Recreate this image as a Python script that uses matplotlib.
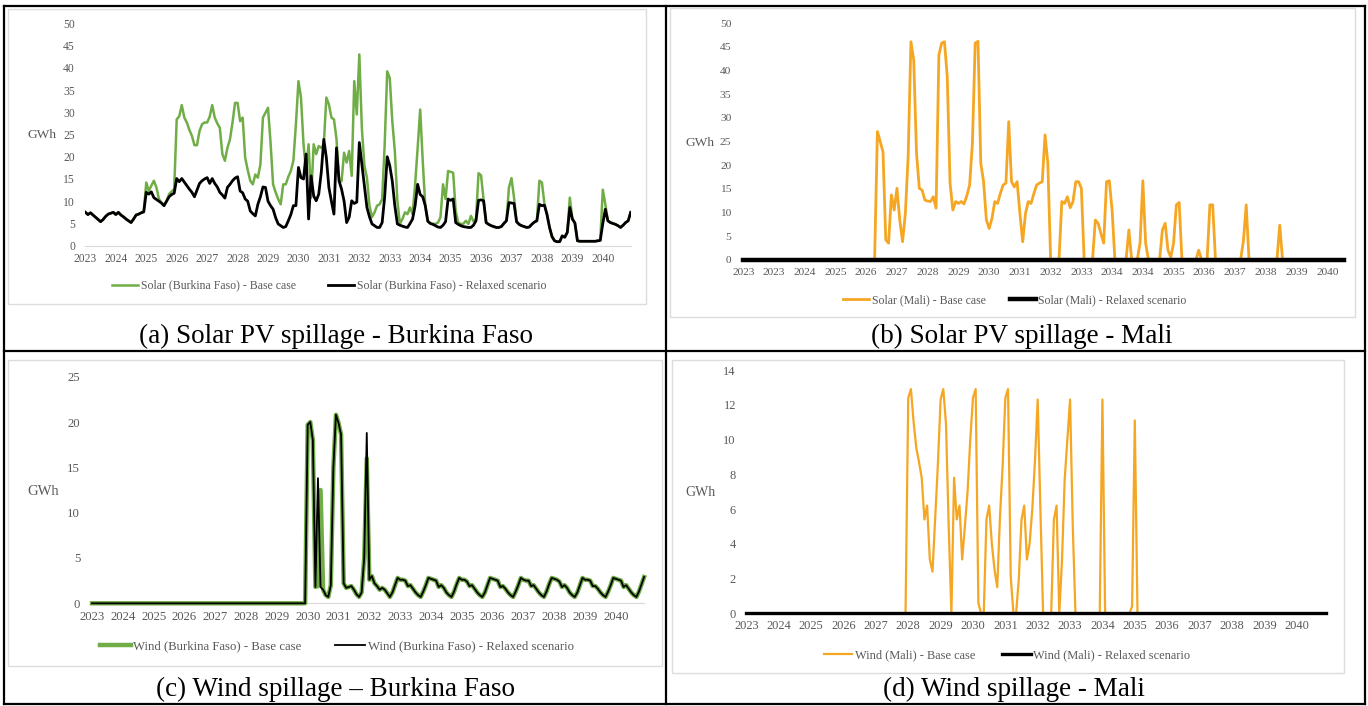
import numpy as np
import matplotlib
matplotlib.use('Agg')
import matplotlib.pyplot as plt
from matplotlib.lines import Line2D
from matplotlib.patches import Rectangle

plt.rcParams['font.family'] = ['Liberation Serif', 'DejaVu Serif']

# monthly values, Jan 2023 .. Dec 2040 (GWh)
solar_bf_base = [
    7.5, 7.0, 7.4, 6.9, 6.4, 5.9, 5.4, 5.9, 6.6, 7.1, 7.3, 7.5,
    7.0, 7.5, 6.9, 6.5, 6.0, 5.6, 5.2, 6.0, 6.9, 7.1, 7.4, 7.6,
    14.2, 12.3, 13.5, 14.6, 13.1, 10.5, 9.6, 9.0, 10.0, 11.6, 12.2, 12.7,
    28.4, 29.1, 31.6, 28.8, 27.7, 26.0, 24.7, 22.6, 22.6, 25.8, 27.3, 27.7,
    27.7, 29.0, 31.6, 28.8, 27.5, 26.5, 20.6, 19.1, 22.0, 23.9, 27.7, 32.1,
    32.1, 28.0, 28.8, 19.8, 17.0, 14.6, 13.8, 16.0, 15.3, 18.3, 28.8, 29.9,
    31.0, 23.2, 13.8, 12.0, 10.5, 9.3, 13.8, 13.8, 15.5, 16.8, 19.1, 27.3,
    37.0, 33.3, 22.8, 16.8, 22.8, 10.8, 22.8, 20.6, 22.4, 22.0, 22.8, 33.3,
    31.8, 28.8, 28.4, 24.0, 15.0, 14.5, 20.9, 18.7, 21.3, 15.7, 37.0, 29.5,
    43.0, 26.5, 18.0, 15.3, 9.0, 6.4, 7.5, 9.0, 9.3, 10.5, 22.8, 39.2,
    37.7, 28.0, 21.3, 10.1, 4.9, 6.0, 7.5, 7.1, 8.6, 7.1, 13.8, 22.0,
    30.6, 19.1, 9.0, 5.5, 5.0, 4.9, 4.9, 5.2, 6.4, 13.8, 10.5, 16.8,
    16.6, 16.4, 7.8, 5.2, 4.9, 4.9, 5.6, 4.9, 6.7, 5.5, 6.0, 16.3,
    15.8, 10.3, 5.2, 4.8, 4.5, 4.3, 4.1, 4.1, 4.3, 5.0, 5.6, 13.1,
    15.2, 10.8, 5.4, 4.8, 4.5, 4.3, 4.1, 4.2, 4.8, 5.3, 5.6, 14.6,
    14.2, 9.3, 7.0, 4.1, 2.0, 1.1, 0.9, 0.9, 2.2, 1.9, 3.0, 10.8,
    6.0, 5.1, 1.1, 1.0, 1.0, 1.0, 1.0, 1.0, 1.0, 1.0, 1.1, 1.2,
    12.6, 9.3, 5.6, 5.2, 5.0, 4.8, 4.5, 4.1, 4.6, 5.2, 5.6, 7.5,
]
solar_bf_relaxed = [
    7.5, 7.0, 7.4, 6.9, 6.4, 5.9, 5.4, 5.9, 6.6, 7.1, 7.3, 7.5,
    7.0, 7.5, 6.9, 6.5, 6.0, 5.6, 5.2, 6.0, 6.9, 7.1, 7.4, 7.6,
    12.0, 11.6, 12.1, 10.8, 10.4, 10.0, 9.6, 9.0, 10.0, 11.0, 11.5, 11.8,
    15.1, 14.4, 15.1, 14.3, 13.5, 12.7, 12.0, 11.0, 12.5, 14.0, 14.6, 15.0,
    15.3, 14.0, 15.1, 14.0, 13.2, 12.0, 11.4, 10.7, 13.1, 13.8, 14.6, 15.2,
    15.5, 12.3, 11.9, 10.5, 10.0, 7.8, 7.2, 6.7, 9.3, 11.0, 13.2, 13.1,
    10.0, 9.0, 8.2, 6.3, 4.9, 4.5, 4.1, 4.3, 5.6, 7.0, 9.0, 9.0,
    17.6, 15.3, 15.0, 20.6, 6.0, 15.7, 11.2, 10.1, 11.6, 16.5, 23.9, 19.8,
    13.1, 10.0, 7.1, 22.0, 14.6, 12.7, 10.0, 5.2, 6.4, 10.1, 9.5, 9.8,
    23.2, 18.3, 13.5, 8.6, 6.5, 4.9, 4.5, 4.1, 4.1, 5.2, 11.0, 20.0,
    18.0, 14.5, 9.0, 4.9, 4.6, 4.4, 4.2, 4.1, 5.0, 6.0, 9.0, 13.8,
    11.5, 11.0, 9.0, 5.5, 5.0, 4.8, 4.5, 4.2, 4.1, 4.6, 5.4, 10.5,
    10.2, 10.5, 5.2, 4.8, 4.5, 4.3, 4.2, 4.1, 4.1, 4.6, 5.6, 10.2,
    10.3, 10.1, 5.2, 4.8, 4.5, 4.3, 4.1, 4.1, 4.3, 5.0, 5.6, 9.7,
    9.6, 9.5, 5.4, 4.8, 4.5, 4.3, 4.1, 4.2, 4.8, 5.3, 5.6, 9.3,
    9.0, 9.1, 7.0, 4.1, 2.0, 1.1, 0.9, 0.9, 2.2, 1.9, 3.0, 8.6,
    6.0, 5.1, 1.1, 1.0, 1.0, 1.0, 1.0, 1.0, 1.0, 1.0, 1.1, 1.2,
    5.0, 8.2, 5.6, 5.2, 5.0, 4.8, 4.5, 4.1, 4.6, 5.2, 5.6, 7.5,
]
solar_mali_base = [
    0, 0, 0, 0, 0, 0, 0, 0, 0, 0, 0, 0,
    0, 0, 0, 0, 0, 0, 0, 0, 0, 0, 0, 0,
    0, 0, 0, 0, 0, 0, 0, 0, 0, 0, 0, 0,
    0, 0, 0, 0, 0, 0, 0, 0, 0, 0, 0, 0,
    27.1, 25.0, 22.8, 4.2, 3.5, 13.7, 10.5, 15.1, 8.4, 3.8, 9.8, 21.8,
    46.1, 42.2, 22.5, 15.1, 14.7, 12.6, 12.4, 12.3, 13.3, 10.9, 43.3, 45.8,
    46.1, 38.7, 16.2, 10.5, 12.3, 11.9, 12.3, 11.8, 13.5, 15.8, 24.6, 45.8,
    46.2, 20.4, 16.5, 8.4, 6.6, 8.7, 12.3, 11.9, 14.0, 15.8, 16.2, 29.2,
    16.5, 15.4, 16.5, 9.8, 3.8, 9.8, 12.3, 11.9, 14.0, 15.8, 16.2, 16.5,
    26.4, 20.4, 0, 0, 0, 0, 12.3, 11.9, 13.3, 11.0, 12.3, 16.5,
    16.5, 15.1, 0, 0, 0, 0, 8.4, 7.7, 5.5, 3.5, 16.5, 16.7,
    10.5, 0, 0, 0, 0, 0, 6.3, 0, 0, 0, 3.5, 16.7,
    3.5, 0, 0, 0, 0, 0, 6.3, 7.7, 2.0, 0.5, 3.5, 11.6,
    12.1, 0, 0, 0, 0, 0, 0, 2.0, 0, 0, 0, 11.6,
    11.6, 0, 0, 0, 0, 0, 0, 0, 0, 0, 0, 4.0,
    11.6, 0, 0, 0, 0, 0, 0, 0, 0, 0, 0, 0,
    7.3, 0, 0, 0, 0, 0, 0, 0, 0, 0, 0, 0,
    0, 0, 0, 0, 0, 0, 0, 0, 0, 0, 0, 0,
]
solar_mali_relaxed = [0.0] * 216

wind_bf_relaxed = [0.0] * 84 + [
    19.7, 20.0, 18.0, 1.8, 13.8, 1.8, 1.5, 0.9, 0.7, 2.0, 15.0, 20.8,
    19.9, 18.6, 2.2, 1.7, 1.8, 1.9, 1.5, 1.0, 0.7, 1.2, 5.0, 18.8,
    2.6, 3.0, 2.2, 1.9, 1.5, 1.7, 1.5, 1.1, 0.7, 1.2, 2.0, 2.8,
    2.6, 2.6, 2.5, 1.9, 2.0, 1.6, 1.2, 0.9, 0.7, 1.3, 2.0, 2.8,
    2.7, 2.6, 2.5, 1.8, 2.0, 1.7, 1.2, 0.9, 0.7, 1.3, 2.1, 2.8,
    2.6, 2.6, 2.4, 1.9, 2.0, 1.6, 1.2, 0.9, 0.7, 1.2, 2.0, 2.8,
    2.7, 2.6, 2.5, 1.8, 1.9, 1.6, 1.2, 0.9, 0.7, 1.3, 2.0, 2.8,
    2.6, 2.5, 2.5, 1.9, 2.0, 1.6, 1.2, 0.9, 0.7, 1.3, 2.1, 2.8,
    2.7, 2.6, 2.4, 1.8, 2.0, 1.7, 1.2, 0.9, 0.7, 1.2, 2.0, 2.8,
    2.6, 2.6, 2.5, 1.9, 1.9, 1.6, 1.2, 0.9, 0.7, 1.3, 2.0, 2.8,
    2.7, 2.6, 2.5, 1.8, 2.0, 1.6, 1.2, 0.9, 0.7, 1.3, 2.1, 2.9,
]
wind_bf_base = [0.0] * 84 + [
    19.7, 20.0, 18.0, 1.8, 1.9, 12.5, 1.5, 0.9, 0.7, 2.0, 15.0, 20.8,
    19.9, 18.6, 2.2, 1.7, 1.8, 1.9, 1.5, 1.0, 0.7, 1.2, 5.0, 16.0,
    2.6, 3.0, 2.2, 1.9, 1.5, 1.7, 1.5, 1.1, 0.7, 1.2, 2.0, 2.8,
    2.6, 2.6, 2.5, 1.9, 2.0, 1.6, 1.2, 0.9, 0.7, 1.3, 2.0, 2.8,
    2.7, 2.6, 2.5, 1.8, 2.0, 1.7, 1.2, 0.9, 0.7, 1.3, 2.1, 2.8,
    2.6, 2.6, 2.4, 1.9, 2.0, 1.6, 1.2, 0.9, 0.7, 1.2, 2.0, 2.8,
    2.7, 2.6, 2.5, 1.8, 1.9, 1.6, 1.2, 0.9, 0.7, 1.3, 2.0, 2.8,
    2.6, 2.5, 2.5, 1.9, 2.0, 1.6, 1.2, 0.9, 0.7, 1.3, 2.1, 2.8,
    2.7, 2.6, 2.4, 1.8, 2.0, 1.7, 1.2, 0.9, 0.7, 1.2, 2.0, 2.8,
    2.6, 2.6, 2.5, 1.9, 1.9, 1.6, 1.2, 0.9, 0.7, 1.3, 2.0, 2.8,
    2.7, 2.6, 2.5, 1.8, 2.0, 1.6, 1.2, 0.9, 0.7, 1.3, 2.1, 2.9,
]
wind_mali_base = [0.0] * 60 + [
    12.4, 12.9, 11.0, 9.5, 8.7, 7.8, 5.4, 6.2, 3.1, 2.4, 5.5, 8.6,
    12.3, 12.9, 10.9, 5.0, 0.0, 7.8, 5.4, 6.2, 3.1, 5.0, 7.0, 10.0,
    12.4, 12.9, 0.6, 0.0, 0.0, 5.4, 6.2, 4.0, 2.5, 1.5, 5.5, 8.5,
    12.4, 12.9, 2.1, 0.0, 0.0, 2.0, 5.4, 6.2, 3.1, 4.0, 6.0, 8.8,
    12.3, 6.0, 0.0, 0.0, 0.0, 0.0, 5.4, 6.2, 0.0, 3.0, 7.7, 10.0,
    12.3, 5.0, 0.0, 0.0, 0.0, 0.0, 0.0, 0.0, 0.0, 0.0, 0.0, 0.0,
    12.3, 0.0, 0.0, 0.0, 0.0, 0.0, 0.0, 0.0, 0.0, 0.0, 0.0, 0.4,
    11.1, 0.0, 0.0, 0.0, 0.0, 0.0, 0.0, 0.0, 0.0, 0.0, 0.0, 0.0,
] + [0.0] * 60
wind_mali_relaxed = [0.0] * 216

year_labels = [str(y) for y in range(2023, 2041)]
mali_solar_labels = ['2023', '2023', '2024', '2025', '2026', '2027', '2028',
                     '2029', '2030', '2031', '2032', '2033', '2034', '2034',
                     '2035', '2036', '2037', '2038', '2039', '2040']

GREEN = '#70ad47'
ORANGE = '#f5a623'
GREY = '#595959'

W, H = 1368, 706
fig = plt.figure(figsize=(W / 100, H / 100), dpi=100)


def px_axes(x0, x1, ytop, ybot):
    return fig.add_axes([x0 / W, 1 - ybot / H, (x1 - x0) / W, (ybot - ytop) / H])


def fig_text(x, y, s, **kw):
    fig.text(x / W, 1 - y / H, s, **kw)


def fig_line(x0, y0, x1, y1, **kw):
    fig.add_artist(Line2D([x0 / W, x1 / W], [1 - y0 / H, 1 - y1 / H],
                          transform=fig.transFigure, **kw))


def fig_box(x0, y0, x1, y1):
    fig.add_artist(Rectangle((x0 / W, 1 - y1 / H), (x1 - x0) / W, (y1 - y0) / H,
                             transform=fig.transFigure, fill=False,
                             edgecolor='#dcdcdc', lw=1))


def style(ax, ymax, ystep, ticks, labels, size, xpad, ypad):
    ax.set_xlim(0, 215)
    ax.set_ylim(0, ymax)
    ax.set_yticks(np.arange(0, ymax + 0.01, ystep))
    ax.set_xticks(ticks)
    ax.set_xticklabels(labels)
    for s in ['top', 'right', 'left']:
        ax.spines[s].set_visible(False)
    ax.spines['bottom'].set_color('#d9d9d9')
    ax.spines['bottom'].set_zorder(1)
    ax.tick_params(axis='both', length=0, labelsize=size, labelcolor=GREY)
    ax.tick_params(axis='x', pad=xpad)
    ax.tick_params(axis='y', pad=ypad)
    ax.patch.set_alpha(0)


months = np.arange(216)

# chart area frames
fig_box(8, 9, 646, 304)
fig_box(670, 8, 1355, 317)
fig_box(8, 360, 662, 666)
fig_box(672, 360, 1344, 673)

# (a) Solar Burkina Faso
ax = px_axes(85.4, 630.7, 23.3, 245.7)
ax.plot(months, solar_bf_base, color=GREEN, lw=1.8, solid_joinstyle='round',
        label='Solar (Burkina Faso) - Base case', zorder=3)
ax.plot(months, solar_bf_relaxed, color='black', lw=2.0, solid_joinstyle='round',
        label='Solar (Burkina Faso) - Relaxed scenario', zorder=4)
style(ax, 50, 5, np.arange(0, 216, 12), year_labels, 8.4, 5, 7.5)
fig_text(42, 135, 'GWh', fontsize=9.7, color=GREY, ha='center', va='center')
ax.legend(loc='center', bbox_to_anchor=(329 / W, 1 - 285.7 / H),
          bbox_transform=fig.transFigure, ncol=2, frameon=False,
          fontsize=8.5, labelcolor=GREY, handlelength=2.2,
          handletextpad=0.25, columnspacing=2.7)

# (b) Solar Mali
ax = px_axes(743.3, 1344.0, 23.3, 259.7)
ax.plot(months, solar_mali_base, color=ORANGE, lw=2.0, solid_joinstyle='round',
        label='Solar (Mali) - Base case', clip_on=False, zorder=3)
ax.plot(months, solar_mali_relaxed, color='black', lw=3.2,
        label='Solar (Mali) - Relaxed scenario', clip_on=False, zorder=4)
style(ax, 50, 5, np.arange(0, 216, 11), mali_solar_labels, 8.2, 6, 8.5)
fig_text(699.6, 143, 'GWh', fontsize=9.7, color=GREY, ha='center', va='center')
ax.legend(loc='center', bbox_to_anchor=(1015 / W, 1 - 300 / H),
          bbox_transform=fig.transFigure, ncol=2, frameon=False,
          fontsize=8.5, labelcolor=GREY, handlelength=2.2,
          handletextpad=0.25, columnspacing=2.0)

# (c) Wind Burkina Faso
ax = px_axes(92, 644.1, 376.7, 603.3)
ax.plot(months, wind_bf_base, color=GREEN, lw=3.2, solid_joinstyle='round',
        label='Wind (Burkina Faso) - Base case', clip_on=False, zorder=3)
ax.plot(months, wind_bf_relaxed, color='black', lw=1.3, solid_joinstyle='round',
        label='Wind (Burkina Faso) - Relaxed scenario', clip_on=False, zorder=4)
style(ax, 25, 5, np.arange(0, 216, 12), year_labels, 9.2, 5.5, 8.5)
fig_text(43, 491.7, 'GWh', fontsize=10.5, color=GREY, ha='center', va='center')
ax.legend(loc='center', bbox_to_anchor=(337 / W, 1 - 646.7 / H),
          bbox_transform=fig.transFigure, ncol=2, frameon=False,
          fontsize=9.2, labelcolor=GREY, handlelength=2.4,
          handletextpad=0.2, columnspacing=2.6)

# (d) Wind Mali
ax = px_axes(746.4, 1326.3, 370.0, 613.3)
ax.plot(months, wind_mali_base, color=ORANGE, lw=1.6, solid_joinstyle='round',
        label='Wind (Mali) - Base case', clip_on=False, zorder=3)
ax.plot(months, wind_mali_relaxed, color='black', lw=2.4,
        label='Wind (Mali) - Relaxed scenario', clip_on=False, zorder=4)
style(ax, 14, 2, np.arange(0, 216, 12), year_labels, 8.9, 5, 7.6)
fig_text(701, 492.7, 'GWh', fontsize=10, color=GREY, ha='center', va='center')
ax.legend(loc='center', bbox_to_anchor=(1007 / W, 1 - 655 / H),
          bbox_transform=fig.transFigure, ncol=2, frameon=False,
          fontsize=8.9, labelcolor=GREY, handlelength=2.3,
          handletextpad=0.2, columnspacing=2.2)

# captions
cap = dict(fontsize=19.5, ha='center', va='center')
fig_text(336, 336, '(a) Solar PV spillage - Burkina Faso', **cap)
fig_text(1022, 336, '(b) Solar PV spillage - Mali', **cap)
fig_text(336, 689, '(c) Wind spillage \u2013 Burkina Faso', **cap)
fig_text(1014, 689, '(d) Wind spillage - Mali', **cap)

# table rules
for x0, y0, x1, y1 in [(4, 6, 1365, 6), (4, 704, 1365, 704), (4, 6, 4, 704),
                       (1365, 6, 1365, 704), (666, 6, 666, 704), (4, 351, 1365, 351)]:
    fig_line(x0, y0, x1, y1, color='black', lw=1.6)

fig.savefig('out.png', dpi=100)
